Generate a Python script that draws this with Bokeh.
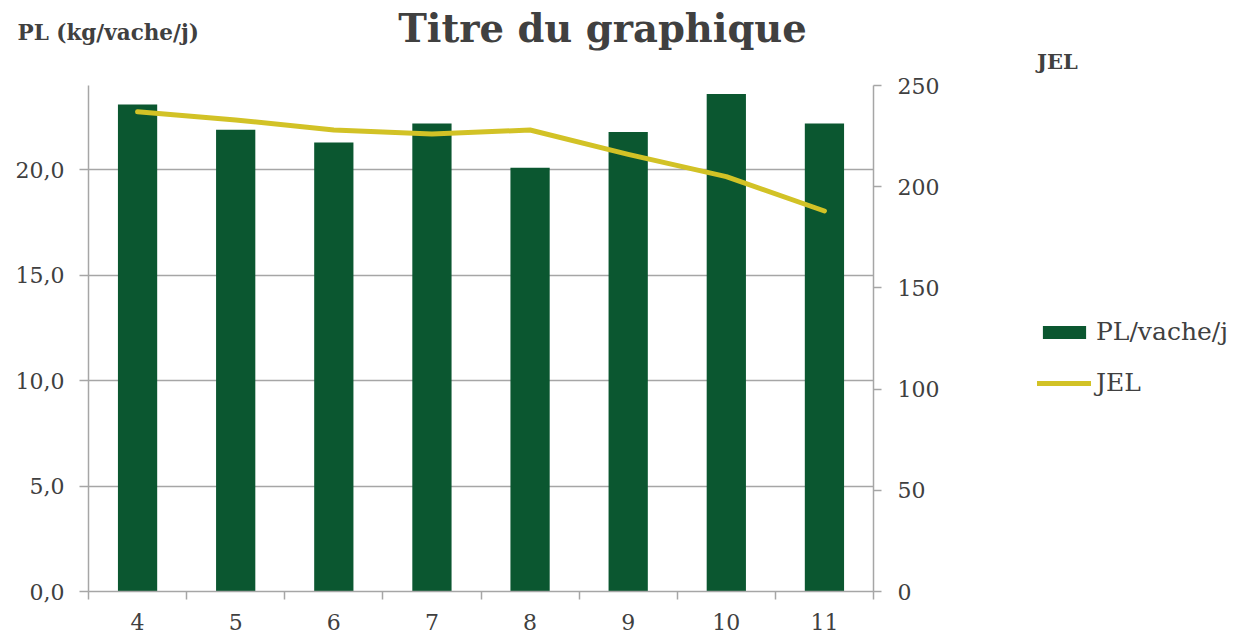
from bokeh.plotting import figure
from bokeh.models import (Range1d, LinearAxis, FixedTicker, Label, Legend, LegendItem,
                          ColumnDataSource)
from bokeh.embed import file_html
from bokeh.resources import INLINE

# ---- data ----
categories = ["4", "5", "6", "7", "8", "9", "10", "11"]
pl_vache_j = [23.1, 21.9, 21.3, 22.2, 20.1, 21.8, 23.6, 22.2]
jel = [237, 233, 228, 226, 228, 216, 205, 188]
left_ticks = [0, 5, 10, 15, 20]
left_tick_labels = ["0,0", "5,0", "10,0", "15,0", "20,0"]
right_ticks = [0, 50, 100, 150, 200, 250]

FONT = "DejaVu Serif"
TXT = "#404040"
GRID = "#a6a6a6"
GREEN = "#0b5730"
YELLOW = "#d2c226"

FL, FT, FW, FH = 88, 85, 785, 506
W, H = 1240, 635

xs = list(range(1, len(categories) + 1))
src = ColumnDataSource(dict(x=xs, pl=pl_vache_j, jel=jel))

p = figure(width=W, height=H, output_backend="svg", toolbar_location=None,
           x_range=Range1d(0.5, len(categories) + 0.5), y_range=Range1d(0, 24),
           min_border_left=FL, min_border_right=W - FL - FW, min_border_top=FT,
           min_border_bottom=H - FT - FH)
p.frame_width = FW
p.frame_height = FH
p.outline_line_color = None
p.background_fill_color = "white"
p.border_fill_color = "white"

p.extra_y_ranges = {"jel": Range1d(0, 250)}

# grid
p.xgrid.visible = False
p.ygrid.ticker = FixedTicker(ticks=left_ticks)
p.ygrid.grid_line_color = GRID
p.ygrid.grid_line_width = 1.5

# bars and line
bars = p.vbar(x="x", top="pl", width=0.4, source=src, fill_color=GREEN, line_color=None)
line = p.line(x="x", y="jel", source=src, y_range_name="jel", line_color=YELLOW,
              line_width=5, line_cap="round", line_join="round")

# x axis
xa = p.xaxis[0]
xa.ticker = FixedTicker(ticks=xs, minor_ticks=[x + 0.5 for x in range(0, len(categories) + 1)])
xa.major_label_overrides = {x: c for x, c in zip(xs, categories)}
xa.major_tick_out = 0
xa.major_tick_in = 0
xa.minor_tick_out = 8
xa.minor_tick_in = 0
xa.minor_tick_line_color = GRID
xa.minor_tick_line_width = 1.5
xa.axis_line_color = GRID
xa.axis_line_width = 1.5
xa.major_label_text_font = FONT
xa.major_label_text_font_size = "22px"
xa.major_label_text_color = TXT
xa.major_label_standoff = 14

# left axis
ya = p.yaxis[0]
ya.ticker = FixedTicker(ticks=left_ticks)
ya.major_label_overrides = {t: l for t, l in zip(left_ticks, left_tick_labels)}
ya.major_tick_out = 9
ya.major_tick_in = 0
ya.minor_tick_line_color = None
ya.major_tick_line_color = GRID
ya.major_tick_line_width = 1.5
ya.axis_line_color = GRID
ya.axis_line_width = 1.5
ya.major_label_text_font = FONT
ya.major_label_text_font_size = "22px"
ya.major_label_text_color = TXT
ya.major_label_standoff = 15

# right axis
ra = LinearAxis(y_range_name="jel", ticker=FixedTicker(ticks=right_ticks))
ra.major_tick_out = 8
ra.major_tick_in = 0
ra.minor_tick_line_color = None
ra.major_tick_line_color = GRID
ra.major_tick_line_width = 1.5
ra.axis_line_color = GRID
ra.axis_line_width = 1.5
ra.major_label_text_font = FONT
ra.major_label_text_font_size = "22px"
ra.major_label_text_color = TXT
ra.major_label_standoff = 16
p.add_layout(ra, "right")

# title and left axis caption, each in its own panel stacked above the frame
TITLE_PANEL_H = 44
p.add_layout(Label(x=602 - FL, y=FT - 28, x_units="screen", y_units="screen",
                   text="Titre du graphique", text_font=FONT, text_font_size="38.5px",
                   text_font_style="bold", text_color=TXT, text_align="center",
                   text_baseline="middle"), "above")
p.add_layout(Label(x=17 - FL, y=FT - TITLE_PANEL_H - 33, x_units="screen", y_units="screen",
                   text="PL (kg/vache/j)", text_font=FONT, text_font_size="21.5px",
                   text_font_style="bold", text_color=TXT, text_align="left",
                   text_baseline="middle"), "above")

# legend (in the right panel); its title carries the right axis caption
legend = Legend(items=[LegendItem(label="PL/vache/j", renderers=[bars]),
                       LegendItem(label="JEL", renderers=[line])],
                location=(-128, 194), orientation="vertical",
                glyph_width=54, glyph_height=16, label_standoff=5,
                label_text_font=FONT, label_text_font_size="25px", label_text_color=TXT,
                label_height=24, spacing=22, padding=0, margin=0,
                title="JEL", title_standoff=243, title_text_font=FONT,
                title_text_font_size="21px", title_text_font_style="bold",
                title_text_color=TXT,
                border_line_color=None, background_fill_alpha=0)
try:
    legend.title_text_align = "right"
except Exception:
    pass
p.add_layout(legend, "right")

open("out.html", "w").write(file_html(p, INLINE))
